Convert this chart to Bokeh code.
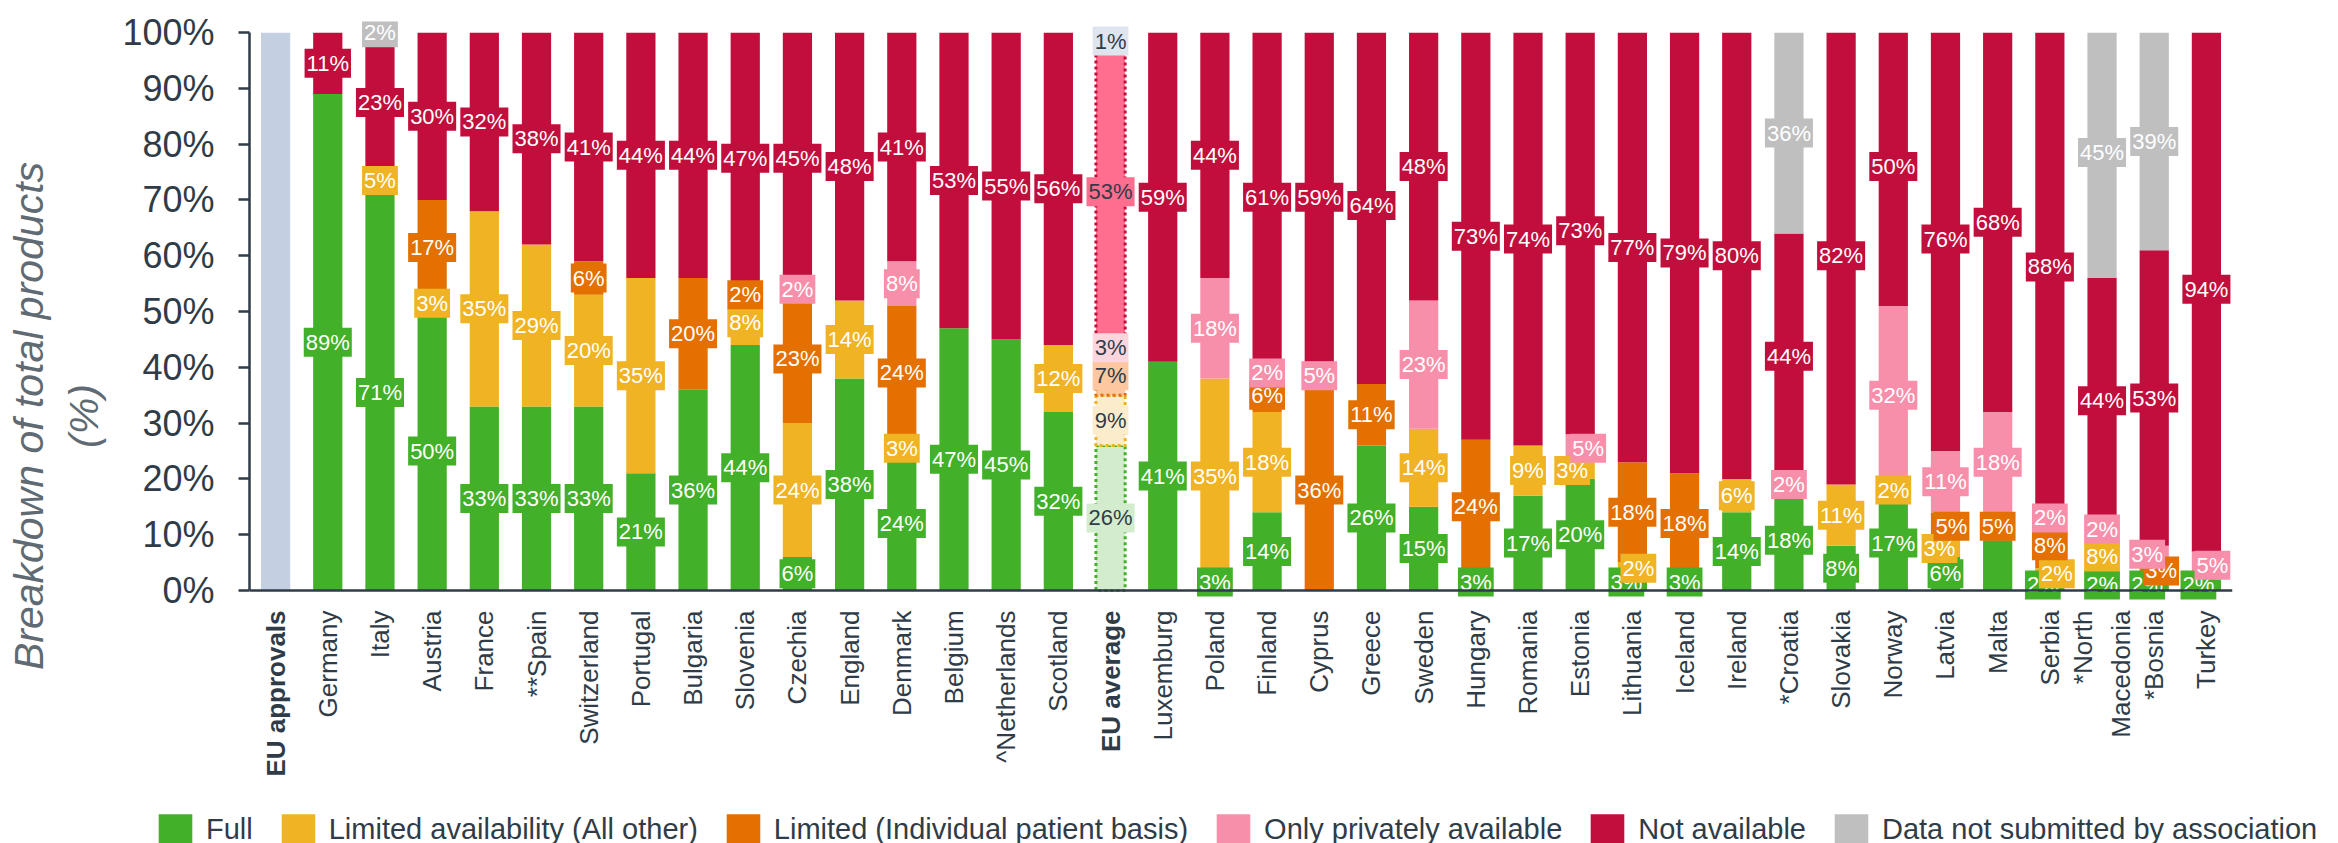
import math
from bokeh.plotting import figure
from bokeh.layouts import column
from bokeh.models import (ColumnDataSource, Legend, LegendItem, FactorRange,
                          Range1d, FixedTicker, Span)
from bokeh.core.properties import value
from bokeh.embed import file_html
from bokeh.resources import INLINE

# ---------------- data ----------------
countries = ["EU approvals", "Germany", "Italy", "Austria", "France", "**Spain", "Switzerland",
             "Portugal", "Bulgaria", "Slovenia", "Czechia", "England", "Denmark", "Belgium",
             "^Netherlands", "Scotland", "EU average", "Luxemburg", "Poland", "Finland", "Cyprus",
             "Greece", "Sweden", "Hungary", "Romania", "Estonia", "Lithuania", "Iceland", "Ireland",
             "*Croatia", "Slovakia", "Norway", "Latvia", "Malta", "Serbia", "*North\nMacedonia",
             "*Bosnia", "Turkey"]

full =      [0, 89, 71, 50, 33, 33, 33, 21, 36, 44, 6, 38, 24, 47, 45, 32, 26, 41, 3, 14, 0, 26, 15, 3, 17, 20, 3, 3, 14, 18, 8, 17, 6, 9, 2, 2, 2, 2]
lim_other = [0, 0, 5, 3, 35, 29, 20, 35, 0, 8, 24, 14, 3, 0, 0, 12, 9, 0, 35, 18, 0, 0, 14, 0, 9, 3, 2, 0, 6, 0, 11, 2, 3, 0, 2, 8, 0, 0]
lim_ipb =   [0, 0, 0, 17, 0, 0, 6, 0, 20, 2, 23, 0, 24, 0, 0, 0, 7, 0, 0, 6, 36, 11, 0, 24, 0, 0, 18, 18, 0, 0, 0, 0, 5, 5, 8, 0, 3, 0]
private =   [0, 0, 0, 0, 0, 0, 0, 0, 0, 0, 2, 0, 8, 0, 0, 0, 3, 0, 18, 2, 5, 0, 23, 0, 0, 5, 0, 0, 0, 2, 0, 32, 11, 18, 2, 2, 3, 5]
not_avail = [0, 11, 23, 30, 32, 38, 41, 44, 44, 47, 45, 48, 41, 53, 55, 56, 53, 59, 44, 61, 59, 64, 48, 73, 74, 73, 77, 79, 80, 44, 82, 50, 76, 68, 88, 44, 53, 94]
no_data =   [0, 0, 2, 0, 0, 0, 0, 0, 0, 0, 0, 0, 0, 0, 0, 0, 1, 0, 0, 0, 0, 0, 0, 0, 0, 0, 0, 0, 0, 36, 0, 0, 0, 0, 0, 45, 39, 0]
eu_approvals_total = 100

series_names = ["Full", "Limited availability (All other)", "Limited (Individual patient basis)",
                "Only privately available", "Not available", "Data not submitted by association"]
series_values = [full, lim_other, lim_ipb, private, not_avail, no_data]

y_ticks = [0, 10, 20, 30, 40, 50, 60, 70, 80, 90, 100]

# labels that are not printed in the original
hidden_labels = {("Malta", 0)}
# small horizontal nudges (px) the original applies to crowded labels
label_dx = {("Lithuania", 0): -6, ("Lithuania", 1): 6, ("Estonia", 1): -8, ("Estonia", 3): 8,
            ("Latvia", 1): -6, ("Latvia", 2): 6, ("Serbia", 0): -7, ("Serbia", 1): 7,
            ("*Bosnia", 0): -7, ("*Bosnia", 2): 7, ("*Bosnia", 3): -7,
            ("Turkey", 0): -8, ("Turkey", 3): 6}

# ---------------- style ----------------
colors = ["#43b02a", "#f0b323", "#e37000", "#f78fab", "#c20e3c", "#bfbfbf"]
avg_fill = ["#d3ecce", "#fbedcb", "#fdc7a0", "#fdd5dd", "#ff6d8f", "#dfe5ef"]
approvals_color = "#c4cfe1"
dark = "#2f3c48"
FONT = "Liberation Sans"
BAR_W = 0.56
AVG = "EU average"
APPROVALS = "EU approvals"
BOLD = {AVG, APPROVALS}

W, H_MAIN, H_LEG = 2338, 810, 33
TOP, LEFT, RIGHT = 21, 249, 106
PX_PER_UNIT = 5.578
Y_END = 102
y_start = Y_END - (H_MAIN - TOP) / PX_PER_UNIT

p = figure(x_range=FactorRange(*countries), y_range=Range1d(y_start, Y_END),
           width=W, height=H_MAIN, output_backend="svg", toolbar_location=None,
           min_border_left=LEFT, min_border_right=RIGHT, min_border_top=TOP, min_border_bottom=0)
p.outline_line_color = None
p.xgrid.grid_line_color = None
p.ygrid.grid_line_color = None
p.xaxis.visible = False

# EU approvals bar
p.vbar(x=[APPROVALS], top=[eu_approvals_total], bottom=[0], width=BAR_W,
       fill_color=approvals_color, line_color=None)

# build segments
seg = {i: dict(x=[], bottom=[], top=[]) for i in range(6)}
avg = dict(x=[], bottom=[], top=[], fc=[], lc=[])
lab = dict(x=[], y=[], text=[], bg=[], tc=[], dx=[])
for ci, c in enumerate(countries):
    if c == APPROVALS:
        continue
    base = 0
    for si in range(6):
        v = series_values[si][ci]
        if v <= 0:
            continue
        b, t = base, base + v
        top_draw = min(t, 100)
        if c == AVG:
            avg["x"].append(c); avg["bottom"].append(b); avg["top"].append(top_draw)
            avg["fc"].append(avg_fill[si]); avg["lc"].append(colors[si])
        else:
            seg[si]["x"].append(c); seg[si]["bottom"].append(b); seg[si]["top"].append(top_draw)
        if (c, si) not in hidden_labels:
            lab["x"].append(c); lab["y"].append((b + t) / 2)
            lab["text"].append(f"{v}%")
            lab["dx"].append(label_dx.get((c, si), 0))
            if c == AVG:
                lab["bg"].append(avg_fill[si]); lab["tc"].append(dark)
            else:
                lab["bg"].append(colors[si]); lab["tc"].append("white")
        base = t

for si in range(6):
    p.vbar(x="x", bottom="bottom", top="top", width=BAR_W, source=ColumnDataSource(seg[si]),
           fill_color=colors[si], line_color=None)

p.vbar(x="x", bottom="bottom", top="top", width=BAR_W, source=ColumnDataSource(avg),
       fill_color="fc", fill_alpha=1.0, line_color="lc", line_width=3, line_dash="3 3")

p.text(x="x", y="y", text="text", x_offset="dx", source=ColumnDataSource(lab),
       text_font=value(FONT), text_font_size="22px", text_align="center",
       text_baseline="middle", text_color="tc",
       background_fill_color="bg", padding=2)

# x axis baseline and category labels
p.add_layout(Span(location=0, dimension="width", line_color=dark, line_width=2.5))
cat_src = ColumnDataSource(dict(x=countries, y=[0] * len(countries),
                                style=["bold" if c in BOLD else "normal" for c in countries]))
p.text(x="x", y="y", text="x", source=cat_src, y_offset=20, angle=math.pi / 2,
       text_align="right", text_baseline="middle", text_font=value(FONT),
       text_font_size="26px", text_font_style="style", text_color=dark, text_line_height=1.25)

ya = p.yaxis[0]
ya.ticker = FixedTicker(ticks=y_ticks)
ya.major_label_overrides = {v: f"{v}%" for v in y_ticks}
ya.bounds = (0, 100)
ya.major_tick_out = 11
ya.major_tick_in = 0
ya.minor_tick_out = 0
ya.minor_tick_in = 0
ya.major_tick_line_width = 2.5
ya.major_tick_line_color = dark
ya.axis_line_width = 2.5
ya.axis_line_color = dark
ya.major_label_standoff = 24
ya.major_label_text_font = FONT
ya.major_label_text_font_size = "36px"
ya.major_label_text_color = dark
ya.axis_label = "Breakdown of total products\n(%)"
ya.axis_label_text_font = FONT
ya.axis_label_text_font_size = "41px"
ya.axis_label_text_font_style = "italic"
ya.axis_label_text_color = "#5f6a72"
ya.axis_label_standoff = 12

# ---------------- legend strip ----------------
lg = figure(width=W, height=H_LEG, x_range=(0, 1), y_range=(0, 1), output_backend="svg",
            toolbar_location=None, min_border=0)
lg.axis.visible = False
lg.grid.visible = False
lg.outline_line_color = None
legend_x = 154
try:
    p.frame_align = False
    lg.frame_align = False
except Exception:
    legend_x = 154 - LEFT   # frames stay aligned: position relative to the aligned frame
legend_renderers = [lg.vbar(x=[5], top=[1], width=0.5, fill_color=c, line_color=None) for c in colors]
legend = Legend(items=[LegendItem(label=n, renderers=[r]) for n, r in zip(series_names, legend_renderers)],
                location=(legend_x, -5), orientation="horizontal",
                glyph_width=42, glyph_height=38, label_text_font=FONT,
                label_text_font_size="29px", label_text_color=dark, label_standoff=10,
                spacing=24, padding=0, margin=0, border_line_color=None,
                background_fill_alpha=0)
lg.add_layout(legend)

open("out.html", "w").write(file_html(column(p, lg, spacing=0), INLINE))
